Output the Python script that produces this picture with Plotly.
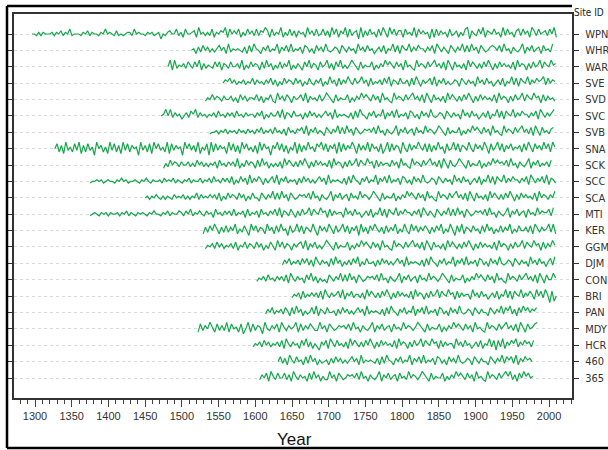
import numpy as np
import plotly.graph_objects as go

SITES = ["WPN", "WHR", "WAR", "SVE", "SVD", "SVC", "SVB", "SNA", "SCK", "SCC", "SCA",
         "MTI", "KER", "GGM", "DJM", "CON", "BRI", "PAN", "MDY", "HCR", "460", "365"]
START = [1296, 1513, 1481, 1556, 1532, 1472, 1538, 1327, 1475, 1375, 1450,
         1375, 1529, 1532, 1637, 1602, 1650, 1614, 1522, 1597, 1631, 1606]
END = [2010, 2005, 2009, 2008, 2008, 2007, 2006, 2008, 2003, 2009, 2008,
       2006, 2009, 2008, 2008, 2009, 2010, 1983, 1984, 1979, 1977, 1978]

# ring-width index, sampled about every 3 years, coded 0-9 (5 = mean)
IDX = {
 "WPN": "5546465556 4657465845 5546574655 4658565474 5456648565 5465645625 4675584638 5567395646 4836576938 5758364857 4847697384 6593648473 7563957484 5847395837 5938467293 7485638496 3958477385 6493857562 8384756384 5736489275 4859376585 6394856378 4857397485 6748593",
 "WHR": "5637485746 4685739465 6547384965 3758465937 5849465738 7463857495 4576386475 6395748563 5748365948 3865947586 6475839647 5386475948 4957386457 8758495637 5469375846 7385649",
 "WAR": "5939465748 6485937465 4858376485 5749364857 6384957364 8475936475 3859476385 6947385946 4697538465 5836475968 6485739564 3957648579 5748396385 6473958647 4859637485 7564839576 3748569486 5967",
 "SVE": "5768574657 4658475647 5847364857 6485736485 4758364957 3847596485 6957384657 4859376485 5738496375 6849375846 4576386475 6395748563 5748365948 3865947586 7948576",
 "SVD": "4658576475 5746385746 6584736584 3957486375 6849375648 4697538465 5836475968 6485739564 3957648579 5748396385 6473958647 4859637485 7564839576 3748569486 5967384756 4",
 "SVC": "5695947563 5748694756 4657485647 5748564756 6475836475 5849376485 5637485746 4685739465 6547384965 3758465937 5849465738 7463857495 4576386475 6395748563 5748365948 3865947586 6475839647 579",
 "SVB": "4556465746 5647564756 4758465748 5647385647 6849375846 5386475948 4957386457 6758495637 5469375846 7385649576 4697538465 5836475968 6485739564 3957648579 5748396385 6478",
 "SNA": "5837294638 4927384619 5736294837 2948375619 4738295846 3928475619 5847392648 1938475629 4837295846 3729485617 5948372649 2837495638 6948375829 3847596284 7493856382 5938476295 3847596483 8374956284 5948376495 3857496284 6948375846 5738496385 74958396",
 "SCK": "3648576475 5746485746 4657385647 5749364857 6384957364 6473958647 4859637485 7564839576 3748569486 5967384756 6485739564 3957648579 5748396385 4697538465 5836475968 6758495637 5469375846 5748",
 "SCC": "4556564565 5465756455 6546575465 5647565746 5465746557 4657485647 5748364857 3947586374 6849375846 5637485746 4685739465 6547384965 3758465937 5849465738 7463857495 4576386475 6395748563 5748365948 3865947586 6475839647 58493764",
 "SCA": "5646575464 6547565746 4658475657 5748364857 6485736485 5386475948 4957386457 6758495637 5469375846 7385649576 4697538465 5836475968 6485739564 3957648579 5748396385 6473958647 4859637485 7564839576 4759",
 "MTI": "4565465646 5564657465 4656546575 5465746557 6475846575 4756385647 5748465738 4657385647 5849376485 3748569486 5967384756 6395748563 5748365948 3865947586 6475839647 5386475948 4957386457 6758495637 5469375846 7385649576 6849",
 "KER": "3748596374 8475936485 2958476395 7384956284 5948376495 2857496384 6948375829 4738596473 8475936495 3958475863 7485936495 2849376485 6384957364 8475936485 5748396475 69493",
 "GGM": "4657485746 5748365847 6485736485 3958476375 7849375846 4697538465 5836475968 6485739564 3957648579 5748396385 6473958647 4859637485 7564839576 3748569486 5967384759 6",
 "DJM": "4758465748 5847396475 6384957364 7485936485 5637485746 4685739465 6547384965 3758465937 5849465738 7463857495 4576386475 6395748563 6849",
 "CON": "4657485647 5748396475 6385947364 5386475948 4957386457 6758495637 5469375846 7385649576 4697538465 5836475968 6485739564 3957648579 5748396385 596",
 "BRI": "4657384657 5748396475 6849375846 6473958647 4859637485 7564839576 3748569486 5967384756 6395748563 5748365948 3865947586 3958496182 5",
 "PAN": "4758465748 6384957364 5849376485 5637485746 4685739465 6547384965 3758465937 5849465738 7463857495 4576386475 5386475948 6947385968 5768",
 "MDY": "3847596384 7493856382 5938476295 4758396475 6938475864 4957386457 6758495637 5469375846 7385649576 4697538465 5836475968 6485739564 3957648579 5748396385 689",
 "HCR": "4657485746 5748396475 6385947364 2758396485 6473958647 4859637485 7564839576 3748569486 5967384756 6395748563 5748365948 2849375869 47586748",
 "460": "5847396485 6384957364 5637485746 4685739465 6547384965 3758465937 5849465738 7463857495 4576386475 5386475948 6849375867 5",
 "365": "4758396485 5847396475 6384957364 4957386457 6758495637 5469375846 7385649576 4697538465 5836475968 6485739564 3957648579 6947385968 56",
}

GREEN = "#14a84c"
SCALE = 0.1

fig = go.Figure()
for i, s in enumerate(SITES):
    v = np.array([int(c) for c in IDX[s] if c.isdigit()], dtype=float)
    yrs = np.linspace(START[i], END[i], len(v))
    fig.add_trace(go.Scatter(x=yrs, y=-i + (v - 5) * SCALE, mode="lines",
                             line=dict(color=GREEN, width=1.2), showlegend=False,
                             hoverinfo="skip"))
fig.add_trace(go.Scatter(x=[None], y=[None], yaxis="y2", showlegend=False))

n = len(SITES)
pad = 1.221
yr = [-(n - 1) - pad, pad]
tv = [-i for i in range(n)]
FAM = "Liberation Sans, Arial, sans-serif"
NARROW = "Liberation Sans Narrow, DejaVu Sans Condensed, Liberation Sans, sans-serif"
fnt = dict(family=FAM, size=11, color="#333")
sfnt = dict(family=NARROW, size=11, color="#333")

fig.update_layout(
    width=608, height=450,
    margin=dict(l=14, r=36, t=14, b=52, autoexpand=False),
    paper_bgcolor="white", plot_bgcolor="white",
    font=fnt,
    xaxis=dict(range=[1271.4, 2031.3], tick0=1300, dtick=50, ticks="outside",
               ticklen=7, tickwidth=1, tickcolor="#444", showgrid=False,
               zeroline=False, showline=True, mirror=True, linecolor="#333",
               linewidth=1.5, tickfont=fnt, automargin=False,
               minor=dict(dtick=10, tick0=1300, ticks="outside", ticklen=4,
                          tickcolor="#444", tickwidth=1, showgrid=False)),
    yaxis=dict(range=yr, tickvals=tv, ticktext=[""] * n, ticks="outside",
               ticklen=4, tickcolor="#333", showgrid=True, gridcolor="#d8d8d8",
               griddash="dot", gridwidth=1, zeroline=False, showline=True,
               mirror=True, linecolor="#333", linewidth=1.5, automargin=False),
    yaxis2=dict(range=yr, tickvals=tv, ticktext=SITES, overlaying="y",
                side="right", ticks="outside", ticklen=6, tickcolor="#333",
                showgrid=False, zeroline=False, tickfont=sfnt, automargin=False,
                ticklabelstandoff=4),
)

def px(x):
    return (x - 14) / 558.0

def py(y):
    return (398 - y) / 384.0

for (x0, y0, x1, y1) in [(7, 6, 7, 448), (7, 6, 572, 6), (7, 448, 610, 448)]:
    fig.add_shape(type="line", xref="paper", yref="paper",
                  x0=px(x0), y0=py(y0), x1=px(x1), y1=py(y1),
                  line=dict(color="black", width=2.5))

fig.add_annotation(text="Site ID", xref="paper", yref="paper", x=px(606), y=py(13),
                   xanchor="right", yanchor="middle", showarrow=False,
                   font=dict(family=NARROW, size=10, color="#222"))
fig.add_annotation(text="Year", xref="paper", yref="paper", x=px(294), y=py(439),
                   xanchor="center", yanchor="middle", showarrow=False,
                   font=dict(family=FAM, size=17, color="#111"))

fig.write_html("out.html", config={"displayModeBar": False},
               post_script="document.body.style.margin='0';")
